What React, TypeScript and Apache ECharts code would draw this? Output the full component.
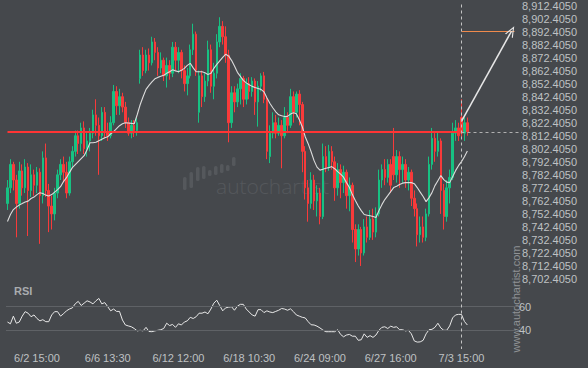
import { useEffect, useRef } from "react";
import * as echarts from "echarts";

// ---- data ----
const tickLabels = ["6/2 15:00", "6/6 13:30", "6/12 12:00", "6/18 10:30", "6/24 09:00", "6/27 16:00", "7/3 15:00"];
const tickIndices = [10, 34, 58, 82, 106, 130, 154];
const SLOT_COUNT = 173; // candles + empty future slots on the time axis

const opens = [8760,8772,8790,8778,8760,8785,8772,8788,8770,8782,8774,8784,8766,8795,8770,8758,8752,8768,8782,8790,8784,8768,8792,8800,8812,8806,8818,8802,8808,8814,8828,8820,8812,8830,8815,8812,8822,8846,8835,8842,8834,8822,8814,8820,8816,8856,8874,8862,8874,8868,8884,8876,8864,8870,8858,8866,8860,8880,8870,8876,8862,8852,8858,8878,8890,8830,8858,8842,8854,8878,8850,8860,8884,8896,8888,8874,8822,8845,8838,8848,8856,8840,8852,8846,8854,8838,8850,8858,8840,8796,8814,8822,8814,8820,8812,8826,8820,8842,8830,8844,8836,8800,8772,8760,8778,8762,8768,8750,8796,8788,8800,8792,8772,8786,8776,8784,8766,8774,8740,8725,8740,8722,8742,8734,8748,8738,8752,8778,8786,8780,8790,8796,8782,8796,8786,8790,8778,8784,8764,8756,8736,8742,8734,8752,8790,8810,8800,8808,8770,8750,8772,8780,8814,8818,8826,8814,8822];
const closes = [8772,8790,8778,8760,8785,8772,8788,8770,8782,8774,8784,8766,8795,8770,8758,8752,8768,8782,8790,8784,8768,8792,8800,8812,8806,8818,8802,8808,8814,8828,8820,8812,8830,8815,8812,8822,8846,8835,8842,8834,8822,8814,8820,8816,8822,8874,8862,8874,8868,8884,8876,8864,8870,8858,8866,8860,8880,8870,8876,8862,8852,8858,8878,8890,8862,8858,8842,8854,8878,8850,8860,8884,8896,8888,8874,8822,8845,8838,8848,8856,8840,8852,8846,8854,8838,8850,8858,8840,8800,8814,8822,8814,8820,8812,8826,8820,8842,8830,8844,8836,8800,8772,8760,8778,8762,8768,8750,8796,8788,8800,8792,8772,8786,8776,8784,8766,8774,8740,8725,8740,8722,8742,8734,8748,8738,8752,8778,8786,8780,8790,8774,8782,8796,8786,8790,8778,8784,8764,8756,8736,8742,8734,8752,8790,8810,8800,8808,8770,8750,8772,8780,8814,8818,8812,8814,8822,8815];
const highs = [8778,8794,8792,8782,8792,8790,8794,8791,8790,8786,8788,8787,8800,8806,8775,8766,8772,8786,8794,8796,8792,8796,8804,8816,8816,8822,8823,8814,8818,8832,8840,8826,8834,8834,8822,8827,8851,8850,8848,8845,8838,8826,8824,8824,8826,8878,8880,8878,8879,8888,8887,8880,8876,8872,8872,8870,8884,8884,8880,8878,8866,8864,8882,8898,8892,8862,8862,8860,8885,8882,8868,8890,8903,8900,8896,8878,8850,8850,8852,8860,8858,8856,8857,8857,8856,8854,8860,8861,8842,8820,8830,8828,8826,8824,8834,8830,8848,8846,8846,8847,8838,8804,8778,8784,8782,8774,8772,8806,8804,8805,8804,8796,8791,8790,8789,8786,8780,8776,8744,8744,8742,8748,8750,8755,8756,8757,8786,8790,8794,8794,8794,8818,8801,8800,8796,8794,8788,8786,8770,8760,8750,8750,8756,8796,8818,8814,8815,8810,8775,8778,8786,8822,8824,8822,8840,8826,8826];
const lows = [8755,8768,8770,8734,8756,8766,8768,8735,8765,8766,8768,8729,8760,8765,8738,8740,8747,8764,8778,8776,8764,8766,8788,8796,8798,8800,8798,8796,8800,8810,8812,8782,8808,8810,8808,8810,8820,8828,8828,8830,8818,8812,8810,8811,8812,8852,8858,8860,8862,8866,8870,8858,8860,8854,8849,8855,8857,8862,8860,8856,8846,8843,8856,8874,8858,8822,8834,8838,8850,8845,8840,8856,8880,8882,8868,8807,8818,8830,8834,8836,8834,8836,8840,8842,8828,8819,8846,8837,8794,8791,8810,8810,8812,8787,8810,8814,8818,8822,8826,8820,8784,8763,8746,8756,8755,8750,8744,8748,8784,8785,8786,8762,8766,8764,8768,8756,8754,8730,8715,8720,8712,8720,8730,8732,8732,8734,8750,8772,8774,8776,8768,8778,8776,8772,8776,8772,8770,8758,8750,8727,8730,8730,8731,8750,8786,8792,8796,8752,8740,8746,8760,8778,8808,8808,8810,8808,8812];
const movingAverage = [8746.1,8751.5,8755.3,8757.2,8758.8,8759.9,8761.1,8761.8,8763.8,8764.9,8766.8,8768.3,8767.6,8766.4,8765.7,8766.8,8768.7,8770.6,8772.9,8776.8,8779.8,8783.7,8787.5,8789.8,8792.1,8794.4,8796.7,8801.3,8806.6,8806.6,8807.0,8808.2,8809.3,8810.5,8811.2,8813.5,8815.1,8817.4,8819.7,8821.2,8822.0,8821.8,8821.5,8821.2,8828.1,8835.8,8841.9,8847.6,8850.7,8853.4,8855.7,8856.8,8857.6,8858.4,8859.9,8861.1,8862.6,8861.8,8861.1,8862.2,8863.7,8866.0,8867.6,8864.1,8861.1,8861.1,8861.1,8860.3,8859.1,8859.9,8863.7,8866.8,8869.5,8872.2,8874.5,8873.3,8869.9,8865.6,8860.7,8857.6,8854.5,8852.6,8851.1,8849.9,8849.0,8848.3,8847.6,8845.7,8841.1,8836.9,8833.5,8830.4,8828.1,8827.3,8826.7,8826.9,8828.6,8829.6,8828.9,8824.3,8818.9,8811.2,8805.9,8799.7,8792.9,8787.9,8785.6,8786.3,8787.1,8787.5,8788.3,8786.7,8784.4,8782.5,8780.2,8776.0,8772.2,8766.8,8762.2,8758.0,8754.5,8751.5,8751.0,8750.5,8750.0,8749.2,8754.5,8759.1,8763.0,8766.0,8769.1,8772.2,8773.3,8774.5,8775.6,8776.0,8776.0,8776.0,8775.2,8772.2,8768.7,8765.3,8761.4,8764.5,8768.3,8773.7,8777.5,8781.4,8778.3,8776.4,8776.0,8780.6,8785.2,8789.0,8792.1,8795.9,8800.2];
const rsiValues = [47,45.5,52,46,47,52,55.8,54.5,51.5,53,50,48,49,47.3,47.3,53,55.8,55.8,52,54,56.5,58,59,62.5,64.5,61,63,65,64,62.4,65,67,62.4,63.5,60,56.5,58,56,56,48.7,44.5,43.7,43,41.5,39.5,40,39.5,42.5,39,38.8,39.5,40,40.5,41.5,46,44,45,42.5,45.5,44.5,47,48,51,50,51.5,54.5,54.5,55.5,54,58,63,65.5,61,56.5,59,59.6,60,57,60.5,62,62,58,55.5,53,52,57.5,57.5,55,56.5,55.5,55,56,57,58.5,58,57,58.2,55.8,53,52,51,50.5,47.3,44.7,44.5,43.5,42,40.2,38.8,38.8,38.8,38.8,40.5,36.5,34.5,36,36.5,35,35,31.5,32,37,34,35.5,34,36,40,42.5,43,41.5,43.5,42.5,43,40.5,40.5,39.5,40,37,31,30,30.2,31.5,37,40.5,40.8,42.5,46,42,40,40,43.7,50.5,53,53.5,53.5,47.5,44.5];

const RESISTANCE = 8815;
const SIGNAL_INDEX = 154;
const ARROW_START = 8823;
const TARGET = 8892.4;
const TARGET_END_INDEX = 172;
const ARROW_END_INDEX = 171;
const PRICE_MIN = 8702;
const PRICE_MAX = 8912;
const PRICE_STEP = 10;
const LABEL_DECIMALS_OFFSET = 0.405;
const RSI_MIN = 25;
const RSI_MAX = 75;
const RSI_LEVELS = [40, 60];

const categories = Array.from({ length: SLOT_COUNT }, (_, i) => {
  const k = tickIndices.indexOf(i);
  return k >= 0 ? tickLabels[k] : "";
});

const BG = "#45484c";
const TEXT = "#bfc1c3";
const UP = "#17c182";
const DOWN = "#f83a3a";
const FONT = "'Liberation Sans', Arial, sans-serif";
const CHEVRON = "path://M5,0 L10,10 L8.6,10 L5,2.6 L1.4,10 L0,10 Z";

const fmtPrice = (v: number) =>
  (v + LABEL_DECIMALS_OFFSET).toLocaleString("en-US", { minimumFractionDigits: 4, maximumFractionDigits: 4 });

export default function App() {
  const ref = useRef<HTMLDivElement>(null);
  useEffect(() => {
    const chart = echarts.init(ref.current!, null, { renderer: "svg" });
    const candleData = opens.map((o, i) => [o, closes[i], lows[i], highs[i]]);
    chart.setOption({
      animation: false,
      backgroundColor: BG,
      textStyle: { fontFamily: FONT },
      grid: [
        { left: 6, right: 72, top: 5, height: 274 },
        { left: 6, right: 72, top: 289, height: 59 },
      ],
      xAxis: [
        {
          type: "category", gridIndex: 0, data: categories,
          axisLine: { show: false }, axisTick: { show: false }, axisLabel: { show: false }, splitLine: { show: false },
        },
        {
          type: "category", gridIndex: 1, data: categories,
          axisLine: { show: false }, axisTick: { show: false }, splitLine: { show: false },
          axisLabel: { interval: 0, color: TEXT, fontSize: 11, margin: 4, fontFamily: FONT },
        },
      ],
      yAxis: [
        {
          type: "value", gridIndex: 0, position: "right", min: PRICE_MIN, max: PRICE_MAX, interval: PRICE_STEP,
          axisLine: { show: false }, axisTick: { show: false }, splitLine: { show: false },
          axisLabel: { color: TEXT, fontSize: 11, margin: 6, formatter: fmtPrice, fontFamily: FONT },
        },
        {
          type: "value", gridIndex: 1, position: "right", min: RSI_MIN, max: RSI_MAX, interval: 5,
          axisLine: { show: false }, axisTick: { show: false }, splitLine: { show: false },
          axisLabel: {
            color: TEXT, fontSize: 11, margin: 3, fontFamily: FONT,
            formatter: (v: number) => (RSI_LEVELS.includes(v) ? String(v) : ""),
          },
        },
      ],
      series: [
        {
          type: "candlestick", xAxisIndex: 0, yAxisIndex: 0, data: candleData, barWidth: 2, silent: true,
          itemStyle: { color: UP, color0: DOWN, borderColor: UP, borderColor0: DOWN, borderWidth: 1 },
          markLine: {
            silent: true, animation: false, symbol: ["none", "none"], label: { show: false },
            emphasis: { disabled: true },
            data: [
              [
                { coord: [0, RESISTANCE], lineStyle: { color: "#ff3434", width: 2, type: "solid" } },
                { coord: [SIGNAL_INDEX, RESISTANCE] },
              ],
              [
                { coord: [SIGNAL_INDEX, TARGET], lineStyle: { color: "#ef8a4c", width: 1.2, type: "solid" } },
                { coord: [TARGET_END_INDEX, TARGET] },
              ],
              [
                { coord: [SIGNAL_INDEX, ARROW_START], lineStyle: { color: "#e6e6e6", width: 1.5, type: "solid" } },
                { coord: [ARROW_END_INDEX, TARGET], symbol: CHEVRON, symbolSize: [9, 11] },
              ],
            ],
          },
        },
        {
          type: "line", xAxisIndex: 0, yAxisIndex: 0, data: movingAverage, showSymbol: false, silent: true,
          lineStyle: { color: "#dcdcdc", width: 1.1 }, z: 3,
        },
        {
          type: "line", xAxisIndex: 1, yAxisIndex: 1, data: rsiValues, showSymbol: false, silent: true,
          lineStyle: { color: "#e8e8e8", width: 1 },
          markLine: {
            silent: true, animation: false, symbol: ["none", "none"], label: { show: false },
            lineStyle: { color: "#5f6266", width: 1, type: "solid" },
            data: RSI_LEVELS.map((v) => ({ yAxis: v })),
          },
        },
      ],
    });

    const lastPrice = closes[closes.length - 1];
    const [xs, yLast] = chart.convertToPixel({ gridIndex: 0 }, [SIGNAL_INDEX, lastPrice]) as number[];
    const yTop = (chart.convertToPixel({ gridIndex: 0 }, [SIGNAL_INDEX, PRICE_MAX]) as number[])[1];
    const yBot = (chart.convertToPixel({ gridIndex: 1 }, [SIGNAL_INDEX, RSI_MIN]) as number[])[1];
    const xLine = Math.round(xs) + 0.5;
    const yPrice = Math.round(yLast) + 0.5;

    const logoBars = [
      [183, 177, 190], [189.5, 172, 188], [196, 167, 181], [202, 166, 179], [208, 170, 176],
      [214, 166, 175], [220, 164, 173], [226, 165, 171], [232, 157, 166],
    ];

    chart.setOption({
      graphic: [
        ...logoBars.map(([x, y0, y1]) => ({
          type: "rect", z: 0, silent: true,
          shape: { x, y: y0, width: 3.5, height: y1 - y0, r: 1.5 },
          style: { fill: "#55585c" },
        })),
        {
          type: "text", z: 0, silent: true, x: 216, y: 186,
          style: { text: "autochartist", fill: "#55585c", fontSize: 21, fontFamily: "'Open Sans', Lato, sans-serif", fontWeight: 300, verticalAlign: "middle" },
        },
        {
          type: "text", silent: true, x: 14, y: 291,
          style: { text: "RSI", fill: "#a9acaf", fontSize: 11, fontWeight: "bold", fontFamily: FONT, verticalAlign: "middle" },
        },
        {
          type: "text", silent: true, x: 516, y: 299, rotation: Math.PI / 2,
          style: { text: "www.autochartist.com", fill: "#8f9295", fontSize: 11, fontFamily: FONT, align: "center", verticalAlign: "middle" },
        },
        {
          type: "line", z: 10, silent: true,
          shape: { x1: xLine, y1: yTop - 1, x2: xLine, y2: yBot + 1 },
          style: { stroke: "#c4c4c4", lineWidth: 1, lineDash: [3, 3] },
        },
        {
          type: "line", z: 10, silent: true,
          shape: { x1: xLine, y1: yPrice, x2: 522, y2: yPrice },
          style: { stroke: "#b0b0b0", lineWidth: 1, lineDash: [3, 3] },
        },
      ],
    });

    return () => chart.dispose();
  }, []);
  return <div ref={ref} style={{ position: "fixed", left: 0, top: 0, width: 588, height: 368 }} />;
}
